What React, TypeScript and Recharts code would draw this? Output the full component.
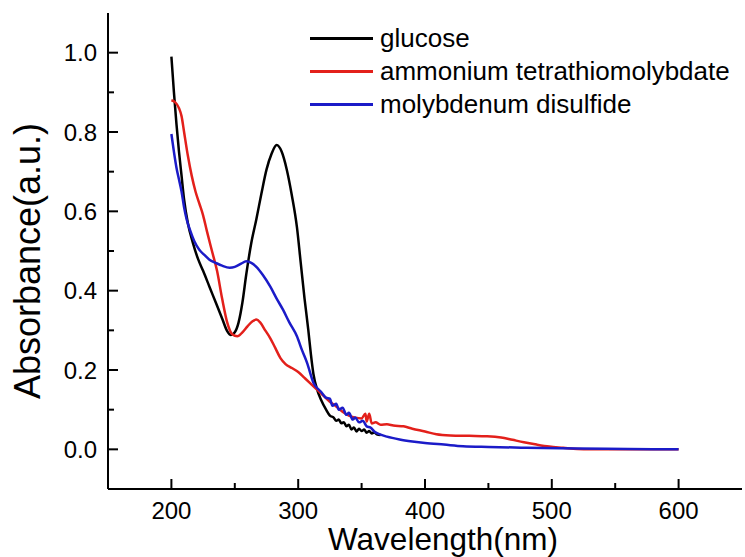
import { LineChart, Line, XAxis, YAxis, Legend } from "recharts";

const glucoseWl = [
  200, 202, 204, 206, 208, 210, 213, 217, 221, 225, 230, 235, 240, 244, 247, 250, 253, 256, 259, 263,
  267, 271, 275, 279, 283, 287, 291, 295, 299, 302, 305, 308, 310, 312, 315, 318, 322, 325, 328, 330,
  332, 334, 336, 338, 340, 342, 344, 346, 348, 350, 352, 354, 356, 358, 360, 362, 365,
];
const glucoseAbs = [
  0.99, 0.9, 0.82, 0.75, 0.69, 0.63, 0.57, 0.52, 0.48, 0.45, 0.41, 0.37, 0.33, 0.298, 0.288, 0.295, 0.32, 0.37, 0.44, 0.52,
  0.58, 0.645, 0.705, 0.745, 0.767, 0.75, 0.705, 0.64, 0.56, 0.47, 0.38, 0.3, 0.24, 0.19, 0.15, 0.125, 0.1, 0.085, 0.08, 0.072,
  0.075, 0.066, 0.068, 0.058, 0.062, 0.05, 0.055, 0.045, 0.052, 0.046, 0.05, 0.042, 0.046, 0.04, 0.043, 0.038, 0.036,
];

const atmWl = [
  200, 203, 206, 208, 210, 213, 216, 219, 222, 225, 228, 232, 236, 240, 244, 248, 252, 256, 260, 264,
  267, 270, 274, 278, 282, 286, 290, 295, 300, 305, 310, 315, 320, 325, 330, 335, 340, 345, 350, 353,
  354, 356, 358, 361, 365, 370, 375, 383, 390, 400, 409, 420, 435, 449, 460, 469, 478, 488, 498, 509,
  520, 530, 560, 600,
];
const atmAbs = [
  0.88, 0.875, 0.86, 0.84, 0.8, 0.74, 0.69, 0.65, 0.62, 0.59, 0.55, 0.5, 0.45, 0.38, 0.32, 0.29, 0.285, 0.295, 0.31, 0.323,
  0.327, 0.32, 0.3, 0.28, 0.255, 0.23, 0.215, 0.205, 0.195, 0.18, 0.165, 0.15, 0.135, 0.12, 0.108, 0.095, 0.085, 0.08, 0.078, 0.09,
  0.07, 0.09, 0.065, 0.068, 0.062, 0.063, 0.06, 0.058, 0.052, 0.045, 0.038, 0.035, 0.034, 0.033, 0.03, 0.024, 0.018, 0.012, 0.007, 0.004,
  0.001, 0, 0, 0,
];

const mosWl = [
  200, 202, 204, 206, 208, 210, 212, 215, 218, 222, 226, 230, 235, 240, 246, 250, 255, 259, 263, 267,
  272, 278, 283, 288, 293, 299, 303, 307, 312, 318, 322, 325, 327, 330, 332, 335, 338, 340, 343, 345,
  348, 351, 354, 357, 360, 365, 370, 380, 390, 400, 415, 430, 450, 480, 520, 560, 600,
];
const mosAbs = [
  0.795, 0.75, 0.71, 0.68, 0.65, 0.61, 0.58, 0.55, 0.525, 0.503, 0.49, 0.478, 0.47, 0.463, 0.458, 0.46, 0.468, 0.474, 0.47, 0.46,
  0.44, 0.41, 0.38, 0.352, 0.32, 0.285, 0.25, 0.218, 0.168, 0.145, 0.13, 0.128, 0.11, 0.115, 0.1, 0.105, 0.087, 0.092, 0.075, 0.08,
  0.068, 0.072, 0.058, 0.055, 0.045, 0.037, 0.032, 0.025, 0.02, 0.016, 0.012, 0.008, 0.006, 0.004, 0.002, 0.001, 0,
];

const xTicks = [200, 250, 300, 350, 400, 450, 500, 550, 600];
const yTicks = [0, 0.1, 0.2, 0.3, 0.4, 0.5, 0.6, 0.7, 0.8, 0.9, 1.0];

const zip = (wl: number[], abs: number[]) => wl.map((w, i) => ({ wl: w, abs: abs[i] }));

const series = [
  { name: "glucose", color: "#000000", data: zip(glucoseWl, glucoseAbs) },
  { name: "ammonium tetrathiomolybdate", color: "#e3201b", data: zip(atmWl, atmAbs) },
  { name: "molybdenum disulfide", color: "#1b1bc8", data: zip(mosWl, mosAbs) },
];

const FONT = '"Liberation Sans", Arial, sans-serif';

const W = 745;
const H = 557;
const MARGIN = { top: 13, right: 3, left: 0, bottom: 0 };
const X_AXIS_H = 68;
const Y_AXIS_W = 108;
const PLOT_BOTTOM = H - MARGIN.bottom - X_AXIS_H;
const PLOT_LEFT = MARGIN.left + Y_AXIS_W;

// inward ticks, long for labelled values, short for the in-between ones
function XTick(props: any) {
  const { x, payload } = props;
  const y = PLOT_BOTTOM;
  const major = payload.value % 100 === 0;
  return (
    <g>
      <line x1={x} x2={x} y1={y} y2={y - (major ? 10 : 6)} stroke="#000" strokeWidth={2} />
      {major && (
        <text x={x} y={y + 21} textAnchor="middle" dominantBaseline="central" fontSize={24} fontFamily={FONT} fill="#000">
          {payload.value}
        </text>
      )}
    </g>
  );
}

function YTick(props: any) {
  const { y, payload } = props;
  const x = PLOT_LEFT;
  const major = Math.round(payload.value * 10) % 2 === 0;
  return (
    <g>
      <line x1={x} x2={x + (major ? 10 : 6)} y1={y} y2={y} stroke="#000" strokeWidth={2} />
      {major && (
        <text x={x - 11} y={y} textAnchor="end" dominantBaseline="central" fontSize={24} fontFamily={FONT} fill="#000">
          {payload.value.toFixed(1)}
        </text>
      )}
    </g>
  );
}

function LegendBox() {
  return (
    <div style={{ fontFamily: FONT, fontSize: 26, color: "#000" }}>
      {series.map((s) => (
        <div key={s.name} style={{ display: "flex", alignItems: "center", height: 33, whiteSpace: "nowrap" }}>
          <span style={{ display: "inline-block", width: 63, height: 3, background: s.color, marginRight: 7 }} />
          <span>{s.name}</span>
        </div>
      ))}
    </div>
  );
}

export default function App() {
  return (
    <div style={{ position: "absolute", left: 0, top: 0, background: "#fff" }}>
      <LineChart width={W} height={H} margin={MARGIN}>
        <XAxis
          dataKey="wl"
          type="number"
          domain={[150, 650]}
          ticks={xTicks}
          allowDataOverflow
          height={X_AXIS_H}
          tickSize={0}
          tickMargin={0}
          tickLine={false}
          tick={<XTick />}
          axisLine={{ stroke: "#000", strokeWidth: 2 }}
          label={{
            content: (p: any) => {
              const vb = p.viewBox;
              return (
                <text x={vb.x + vb.width / 2 + 18} y={vb.y + 61} textAnchor="middle" fontSize={31.5} fontFamily={FONT} fill="#000">
                  Wavelength(nm)
                </text>
              );
            },
          }}
        />
        <XAxis
          xAxisId="top"
          orientation="top"
          type="number"
          domain={[150, 650]}
          height={0}
          tick={false}
          tickLine={false}
          axisLine={{ stroke: "#000", strokeWidth: 2 }}
        />
        <YAxis
          type="number"
          domain={[-0.1, 1.1]}
          ticks={yTicks}
          allowDataOverflow
          width={Y_AXIS_W}
          tickSize={0}
          tickMargin={0}
          tickLine={false}
          tick={<YTick />}
          axisLine={{ stroke: "#000", strokeWidth: 2 }}
          label={{
            content: (p: any) => {
              const vb = p.viewBox;
              const cx = 27;
              const cy = vb.y + vb.height / 2 + 10;
              return (
                <text
                  x={cx}
                  y={cy}
                  transform={`rotate(-90, ${cx}, ${cy})`}
                  textAnchor="middle"
                  dominantBaseline="central"
                  fontSize={36}
                  fontFamily={FONT}
                  fill="#000"
                >
                  Absorbance(a.u.)
                </text>
              );
            },
          }}
        />
        <YAxis
          yAxisId="right"
          orientation="right"
          type="number"
          domain={[-0.1, 1.1]}
          width={0}
          tick={false}
          tickLine={false}
          axisLine={{ stroke: "#000", strokeWidth: 2 }}
        />
        <Legend
          layout="vertical"
          align="center"
          verticalAlign="middle"
          content={<LegendBox />}
          wrapperStyle={{ position: "absolute", left: 310, top: 22, width: "auto" }}
        />
        {series.map((s) => (
          <Line
            key={s.name}
            name={s.name}
            data={s.data}
            dataKey="abs"
            type="monotone"
            stroke={s.color}
            strokeWidth={2.5}
            dot={false}
            activeDot={false}
            isAnimationActive={false}
          />
        ))}
      </LineChart>
    </div>
  );
}
